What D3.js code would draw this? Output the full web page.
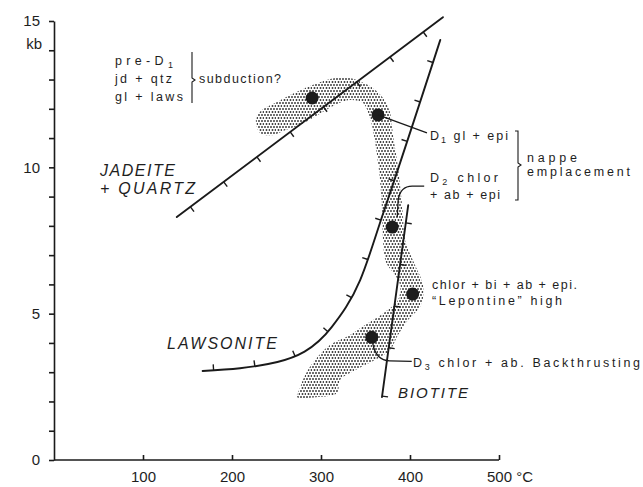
<!DOCTYPE html>
<html>
<head>
<meta charset="utf-8">
<script src="https://cdn.jsdelivr.net/npm/d3@7"></script>
<style>
  html, body { margin: 0; padding: 0; background: #fff; }
  svg { display: block; }
  text { font-family: "Liberation Sans", Arial, sans-serif; fill: #1e1e1e; white-space: pre; }
</style>
</head>
<body>
<svg id="chart" width="643" height="487"></svg>
<script>
// ---- axis ticks ----
const tempTicks = [100, 200, 300, 400, 500];
const pressureTicks = [0, 1, 2, 3, 4, 5, 6, 7, 8, 9, 10, 11, 12, 13, 14, 15];
const pressureLabels = [0, 5, 10, 15];

// ---- reaction curves (T in °C, P in kb) ----
const jadeiteQuartz = [[138, 8.30], [437, 15.13]];
const lawsonite = [
  [167, 3.04], [251, 3.35], [312, 4.54], [344, 6.15], [370, 8.44], [434, 14.35]
];
const biotite = [[398, 8.71], [368.5, 2.15]];

// ---- P-T path envelope (stippled band) ----
const ptPath = [
  [227, 11.68], [233.7, 11.96], [248.3, 12.20], [265.2, 12.47], [282, 12.71],
  [298.9, 12.91], [315.7, 13.05], [332.6, 13.05], [346.1, 12.91], [358.4, 12.71],
  [369.7, 12.37], [377.5, 11.89], [380.9, 11.10], [385.4, 10.25], [388.8, 9.40],
  [392.1, 8.37], [394.4, 7.52], [405.6, 6.66], [414.6, 5.98], [412.4, 5.30],
  [397.8, 4.78], [386.5, 4.27], [377.5, 3.76], [360.7, 3.42], [338.2, 3.07],
  [321.3, 2.73], [318, 2.29], [296.6, 2.15], [273, 2.15], [276.4, 2.46],
  [282, 2.90], [293.3, 3.42], [310.1, 3.93], [332.6, 4.27], [349.4, 4.61],
  [371.9, 5.06], [386.5, 5.47], [388.8, 5.98], [383.1, 6.32], [373, 6.76],
  [369.7, 7.52], [368.5, 8.54], [366.3, 9.57], [362.9, 10.42], [358.4, 11.27],
  [355.1, 11.68], [347.2, 12.20], [332.6, 12.30], [315.7, 12.13], [296.6, 11.79],
  [276.4, 11.45], [259.6, 11.27], [244.9, 11.10], [231.5, 11.17]
];

// ---- metamorphic stages (estimated P-T points) ----
const stageNames = ["pre-D1", "D1", "D2", "Lepontine", "D3"];
const stageT = [290, 364, 380, 403, 357];
const stageP = [12.37, 11.79, 7.96, 5.67, 4.19];

const ink = "#1a1a1a";
const svg = d3.select("#chart");
const x = d3.scaleLinear().domain([0, 500]).range([54, 499]);
const y = d3.scaleLinear().domain([0, 15]).range([460, 21]);

// stipple pattern for the P-T band
const defs = svg.append("defs");
const pat = defs.append("pattern")
  .attr("id", "stipple").attr("patternUnits", "userSpaceOnUse")
  .attr("width", 6).attr("height", 6);
[[1, 1], [4, 1], [2.5, 4], [5.5, 4]].forEach(([cx, cy]) =>
  pat.append("circle").attr("cx", cx).attr("cy", cy).attr("r", 0.95).attr("fill", "#333"));

const line = d3.line().x(d => x(d[0])).y(d => y(d[1]));

svg.append("path")
  .datum(ptPath)
  .attr("d", d3.line().x(d => x(d[0])).y(d => y(d[1])).curve(d3.curveCatmullRomClosed.alpha(0.5)))
  .attr("fill", "url(#stipple)")
  .attr("stroke", "none");

// ---- axes ----
const xAxis = svg.append("g")
  .attr("transform", `translate(0,${y(0)})`)
  .call(d3.axisBottom(x).tickValues(tempTicks).tickSize(-5).tickSizeOuter(0).tickPadding(11)
    .tickFormat(d => d === 500 ? "500 °C" : d));
xAxis.select(".domain").attr("d", `M${x(0)},0H${x(500)}`);
xAxis.selectAll("text").style("font-size", "15px").attr("fill", "#1e1e1e");
xAxis.selectAll(".tick").filter(d => d === 500).select("text")
  .attr("text-anchor", "start").attr("x", -12.5);

const yAxis = svg.append("g")
  .attr("transform", `translate(${x(0)},0)`)
  .call(d3.axisLeft(y).tickValues(pressureTicks).tickSize(5).tickSizeOuter(0).tickPadding(9)
    .tickFormat(d => pressureLabels.includes(d) ? d : ""));
yAxis.selectAll("text").style("font-size", "15px").attr("fill", "#1e1e1e");

[xAxis, yAxis].forEach(g => {
  g.selectAll("path, line").attr("stroke", ink).attr("stroke-width", 1.6);
});

svg.append("text").attr("x", 42).attr("y", 48.5).attr("text-anchor", "end")
  .style("font-size", "15px").text("kb");

// ---- reaction curves with ticks ----
function drawCurve(data, curve, tickOffsets, side) {
  const p = svg.append("path")
    .datum(data)
    .attr("d", line.curve(curve))
    .attr("fill", "none").attr("stroke", ink).attr("stroke-width", 1.9)
    .attr("stroke-linecap", "round");
  const node = p.node();
  const L = node.getTotalLength();
  const offs = tickOffsets(L);
  offs.forEach(s => {
    const a = node.getPointAtLength(Math.max(0, s - 1.5));
    const b = node.getPointAtLength(Math.min(L, s + 1.5));
    const c = node.getPointAtLength(s);
    let dx = b.x - a.x, dy = b.y - a.y;
    const n = Math.hypot(dx, dy) || 1;
    const nx = -dy / n * side, ny = dx / n * side;
    svg.append("line")
      .attr("x1", c.x).attr("y1", c.y)
      .attr("x2", c.x + nx * 6).attr("y2", c.y + ny * 6)
      .attr("stroke", ink).attr("stroke-width", 1.4);
  });
}
const spaced = (start, step, endPad) => L => d3.range(start, L - endPad, step);

drawCurve(jadeiteQuartz, d3.curveLinear, spaced(17, 41.6, 5), 1);
drawCurve(lawsonite, d3.curveMonotoneX, spaced(11, 41.5, 8), -1);
drawCurve(biotite, d3.curveLinear, L => [18, 60, 102, 144, L - 1], -1);

// ---- stage points ----
svg.selectAll("circle.stage")
  .data(stageNames)
  .join("circle")
  .attr("class", "stage")
  .attr("cx", (d, i) => x(stageT[i]))
  .attr("cy", (d, i) => y(stageP[i]))
  .attr("r", 6.5)
  .attr("fill", "#1c1c1c");

// leader lines from points to their labels
const px = i => x(stageT[i]), py = i => y(stageP[i]);
const leader = d => svg.append("path").attr("d", d).attr("fill", "none")
  .attr("stroke", ink).attr("stroke-width", 1.3);
leader(`M${px(1)},${py(1)} L${px(1) + 49},${py(1) + 18}`);
leader(`M${px(2) + 5},${py(2) - 10} L${px(2) + 6},${py(2) - 27} Q${px(2) + 8},${py(2) - 41} ${px(2) + 20},${py(2) - 41} L${px(2) + 32},${py(2) - 41}`);
leader(`M${px(4) + 1},${py(4) + 6} Q${px(4) + 4},${py(4) + 23} ${px(4) + 18},${py(4) + 23.5} L${px(4) + 40},${py(4) + 24}`);

// ---- brackets ----
svg.append("path").attr("d", "M192,52 V78 L195,80 L192,82 V103")
  .attr("fill", "none").attr("stroke", ink).attr("stroke-width", 1.1);
svg.append("path").attr("d", "M515,131 H518 V163 L521,165 L518,167 V200 H515")
  .attr("fill", "none").attr("stroke", ink).attr("stroke-width", 1.1);

// ---- annotations ----
function label(xp, yp, parts, size, width, italic) {
  const t = svg.append("text").attr("x", xp).attr("y", yp).style("font-size", size + "px");
  if (italic) t.style("font-style", "italic");
  let shifted = false;
  parts.forEach(part => {
    if (typeof part === "string") {
      const s = t.append("tspan").text(part);
      if (shifted) { s.attr("dy", -3); shifted = false; }
    } else {
      t.append("tspan").attr("dy", 3).style("font-size", (size * 0.72) + "px").text(part.sub);
      shifted = true;
    }
  });
  if (width) t.attr("textLength", width).attr("lengthAdjust", "spacing");
  return t;
}

label(115, 64.5, ["pre-D", { sub: "1" }], 12.5, 58);
label(115, 83, ["jd + qtz"], 12.5, 57);
label(115, 101, ["gl + laws"], 12.5, 68);
label(199, 82.5, ["subduction?"], 12.5, 82);

label(100, 176, ["JADEITE"], 16, 75, true);
label(100, 193.5, ["+ QUARTZ"], 16, 95, true);
label(167, 349, ["LAWSONITE"], 16, 110, true);
label(398, 397.5, ["BIOTITE"], 15, 70, true);

label(430, 139.5, ["D", { sub: "1" }, " gl + epi"], 12.5, 78);
label(527, 161.5, ["nappe"], 12.5, 50);
label(527, 176, ["emplacement"], 12.5, 103);
label(430, 181.5, ["D", { sub: "2" }, " chlor"], 12.5, 68);
label(430, 199, ["+ ab + epi"], 12.5, 70);
label(432, 288.5, ["chlor + bi + ab + epi."], 12.5, 145);
label(432, 305, ["\u201CLepontine\u201D high"], 12.5, 130);
label(413, 367, ["D", { sub: "3" }, " chlor + ab. Backthrusting"], 12.5, 227);
</script>
</body>
</html>
